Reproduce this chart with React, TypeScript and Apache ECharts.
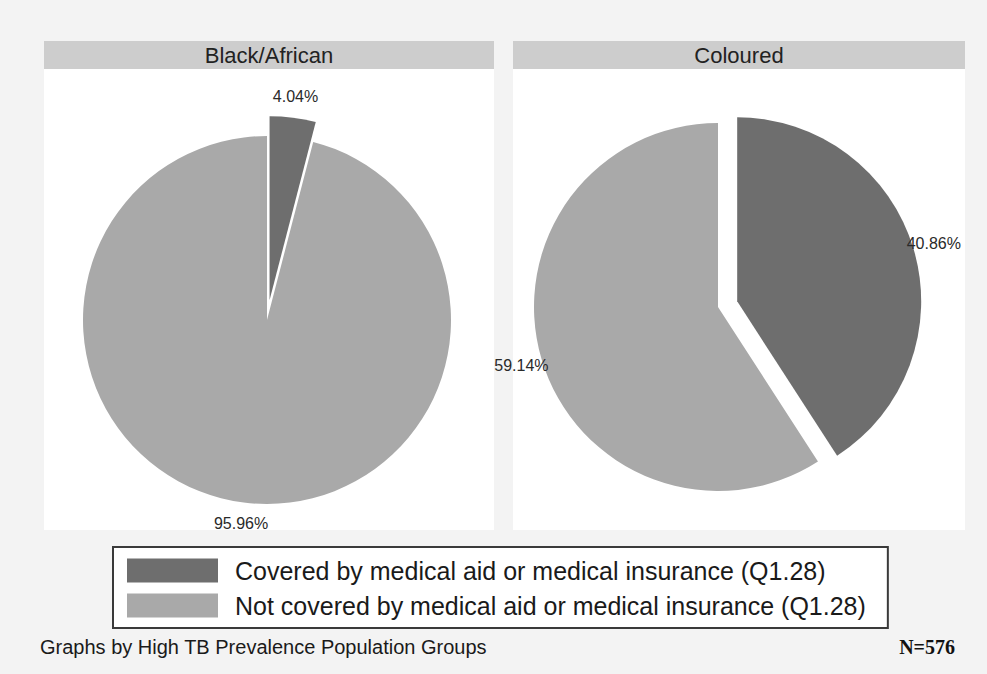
import React, { useEffect, useRef } from "react";
import * as echarts from "echarts";

// ---- data ----
const categories = [
  "Covered by medical aid or medical insurance (Q1.28)",
  "Not covered by medical aid or medical insurance (Q1.28)",
];
const groups = ["Black/African", "Coloured"];
const blackAfricanPct = [4.04, 95.96];
const colouredPct = [40.86, 59.14];
const explodeCovered = [true, false];
const footerNote = "Graphs by High TB Prevalence Population Groups";
const sampleNote = "N=576";

// ---- styles ----
const SANS = "'Liberation Sans', Arial, Helvetica, sans-serif";
const SERIF = "'Liberation Serif', 'Times New Roman', serif";
const sliceColors = ["#6e6e6e", "#a9a9a9"];
const PIE_R = 184;
const centers: [number, number][] = [
  [267, 320],
  [718, 307],
];

function buildData(values: number[]) {
  return values.map((v, i) => ({
    name: categories[i],
    value: v,
    selected: explodeCovered[i],
    itemStyle: { color: sliceColors[i] },
  }));
}

export default function App() {
  const ref = useRef<HTMLDivElement>(null);

  useEffect(() => {
    if (!ref.current) return;
    const chart = echarts.init(ref.current, undefined, { renderer: "svg" });
    const seriesValues = [blackAfricanPct, colouredPct];

    const series: any[] = [];
    seriesValues.forEach((vals, gi) => {
      series.push({
        type: "pie",
        name: groups[gi],
        center: centers[gi],
        radius: [0, PIE_R],
        startAngle: 90,
        clockwise: true,
        selectedMode: "multiple",
        selectedOffset: 20,
        silent: true,
        label: { show: false },
        labelLine: { show: false },
        emphasis: { disabled: true },
        select: { itemStyle: {} },
        data: buildData(vals),
        z: 2,
      });
      // transparent ring carrying centred percentage labels just outside the pie
      series.push({
        type: "pie",
        name: groups[gi] + " labels",
        center: centers[gi],
        radius: [191, 213],
        startAngle: 90,
        clockwise: true,
        selectedMode: "multiple",
        selectedOffset: 20,
        silent: true,
        itemStyle: { color: "rgba(0,0,0,0)" },
        label: {
          show: true,
          position: "inside",
          formatter: (p: any) => Number(p.value).toFixed(2) + "%",
          fontSize: 16,
          color: "#2a2a2a",
          fontFamily: SANS,
        },
        labelLine: { show: false },
        emphasis: { disabled: true },
        data: vals.map((v, i) => ({
          name: categories[i],
          value: v,
          selected: explodeCovered[i],
          itemStyle: { color: "rgba(0,0,0,0)" },
        })),
        z: 3,
      });
    });

    const panels = [
      { x: 44, w: 450 },
      { x: 513, w: 452 },
    ];

    const graphic: any[] = [];
    panels.forEach((p, i) => {
      graphic.push({
        type: "rect",
        shape: { x: p.x, y: 41, width: p.w, height: 489 },
        style: { fill: "#ffffff" },
        z: -10,
        silent: true,
      });
      graphic.push({
        type: "rect",
        shape: { x: p.x, y: 41, width: p.w, height: 28 },
        style: { fill: "#cdcdcd" },
        z: -9,
        silent: true,
      });
      graphic.push({
        type: "text",
        x: p.x + p.w / 2,
        y: 55,
        style: {
          text: groups[i],
          fill: "#222",
          font: `22px ${SANS}`,
          textAlign: "center",
          textVerticalAlign: "middle",
        },
        z: -8,
        silent: true,
      });
    });
    graphic.push({
      type: "text",
      x: 40,
      y: 647,
      style: {
        text: footerNote,
        fill: "#1a1a1a",
        font: `20px ${SANS}`,
        textAlign: "left",
        textVerticalAlign: "middle",
      },
      silent: true,
    });
    graphic.push({
      type: "text",
      x: 955,
      y: 647,
      style: {
        text: sampleNote,
        fill: "#111",
        font: `bold 20px ${SERIF}`,
        textAlign: "right",
        textVerticalAlign: "middle",
      },
      silent: true,
    });

    chart.setOption({
      animation: false,
      backgroundColor: "#f3f3f3",
      graphic,
      legend: {
        orient: "vertical",
        left: 113,
        top: 547,
        data: categories,
        icon: "rect",
        itemWidth: 91,
        itemHeight: 24,
        itemGap: 10,
        padding: [11, 22, 10, 14],
        backgroundColor: "#ffffff",
        borderColor: "#3a3a3a",
        borderWidth: 2,
        selectedMode: false,
        textStyle: {
          fontSize: 25,
          lineHeight: 24,
          color: "#1a1a1a",
          fontFamily: SANS,
          padding: [0, 0, 0, 12],
        },
      },
      series,
    });

    return () => chart.dispose();
  }, []);

  return (
    <div
      ref={ref}
      style={{ position: "fixed", left: 0, top: 0, width: 987, height: 674 }}
    />
  );
}
